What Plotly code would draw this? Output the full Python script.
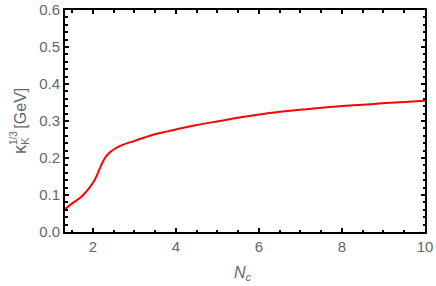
import plotly.graph_objects as go

nc = [1.33, 1.49, 1.68, 1.80, 1.92, 2.04, 2.12, 2.20, 2.28, 2.40, 2.56, 2.73, 2.97, 3.15, 3.45, 3.8, 4.07, 4.5, 5.05, 5.5, 6.09, 6.5, 7.05, 7.5, 8.09, 8.5, 8.89, 9.4, 10.0]
kappa = [0.062, 0.076, 0.091, 0.104, 0.120, 0.140, 0.159, 0.180, 0.198, 0.214, 0.227, 0.236, 0.245, 0.252, 0.263, 0.272, 0.279, 0.289, 0.300, 0.309, 0.319, 0.325, 0.331, 0.336, 0.341, 0.344, 0.347, 0.351, 0.355]

x_ticks = [2, 4, 6, 8, 10]
y_ticks = [0.0, 0.1, 0.2, 0.3, 0.4, 0.5, 0.6]
y_labels = ["0.0", "0.1", "0.2", "0.3", "0.4", "0.5", "0.6"]

gray = "#666666"
font_family = "Liberation Sans, Arial"
fig = go.Figure()
fig.add_trace(go.Scatter(x=nc, y=kappa, mode="lines",
                         line=dict(color="#ff0000", width=2, shape="spline", smoothing=0.8),
                         showlegend=False, hoverinfo="skip"))

axis_common = dict(showline=True, linecolor="black", linewidth=2, mirror="allticks",
                   ticks="inside", ticklen=4, tickwidth=1.5, tickcolor="black",
                   showgrid=False, zeroline=False, automargin=False,
                   tickfont=dict(family=font_family, size=15, color=gray))

fig.update_xaxes(range=[1.33, 10], tickvals=x_ticks, ticktext=[str(v) for v in x_ticks],
                 minor=dict(dtick=0.5, tick0=0, ticks="inside", ticklen=2.5, tickcolor="black", tickwidth=1.5, showgrid=False),
                 **axis_common)
fig.update_yaxes(range=[0, 0.6], tickvals=y_ticks, ticktext=y_labels,
                 minor=dict(dtick=0.02, tick0=0, ticks="inside", ticklen=2.5, tickcolor="black", tickwidth=1.5, showgrid=False),
                 **axis_common)

# axis titles
fig.add_annotation(text="<i>N</i><sub><i>c</i></sub>", xref="paper", yref="paper",
                   x=(243 - 65) / 360, y=-41 / 222, xanchor="center", yanchor="middle",
                   showarrow=False, font=dict(family=font_family, size=16, color=gray))
fig.add_annotation(text="<span style='font-size:18px'>κ</span><sub>K</sub>  [GeV]", xref="paper", yref="paper",
                   x=(20 - 65) / 360, y=(232 - 121) / 222, xanchor="center", yanchor="middle",
                   textangle=-90, showarrow=False, font=dict(family=font_family, size=16, color=gray))
fig.add_annotation(text="1/3", xref="paper", yref="paper",
                   x=(13 - 65) / 360, y=(232 - 138) / 222, xanchor="center", yanchor="middle",
                   textangle=-90, showarrow=False, font=dict(family=font_family, size=10, color=gray))

fig.update_layout(width=436, height=286, margin=dict(l=65, r=11, t=10, b=54),
                  plot_bgcolor="white", paper_bgcolor="white")
fig.write_html("out.html", config={"displayModeBar": False},
               post_script="document.body.style.margin='0';document.body.style.overflow='hidden';")
